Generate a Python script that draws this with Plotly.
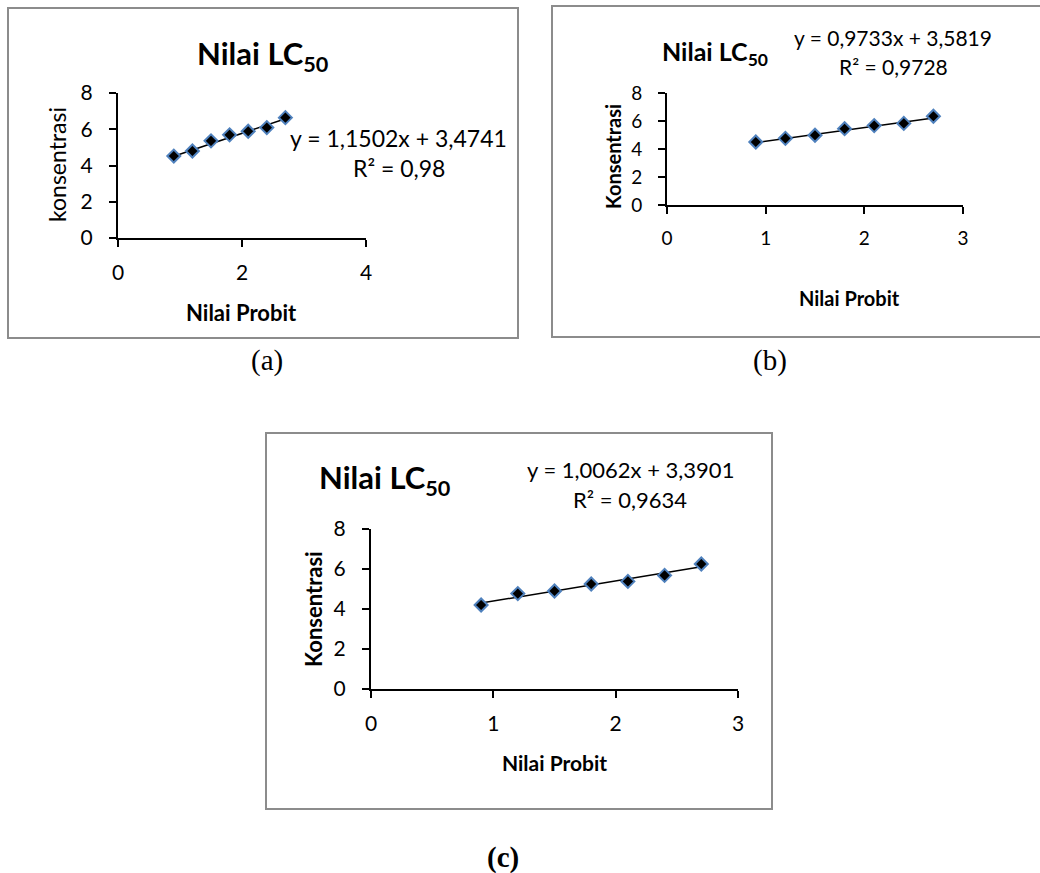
import plotly.graph_objects as go

W, H = 1040, 873

# ---- data ----
probit = [0.9, 1.2, 1.5, 1.8, 2.1, 2.4, 2.7]
konsentrasi_a = [4.52, 4.80, 5.36, 5.69, 5.89, 6.09, 6.64]
konsentrasi_b = [4.50, 4.76, 4.98, 5.45, 5.67, 5.83, 6.34]
konsentrasi_c = [4.20, 4.77, 4.90, 5.25, 5.38, 5.68, 6.25]

slope = {"a": 1.1502, "b": 0.9733, "c": 1.0062}
intercept = {"a": 3.4741, "b": 3.5819, "c": 3.3901}
eq_text = {"a": "y = 1,1502x + 3,4741", "b": "y = 0,9733x + 3,5819", "c": "y = 1,0062x + 3,3901"}
r2_text = {"a": "R² = 0,98", "b": "R² = 0,9728", "c": "R² = 0,9634"}
y_titles = {"a": "konsentrasi", "b": "Konsentrasi", "c": "Konsentrasi"}
x_title = "Nilai Probit"
chart_title = "Nilai LC<sub>50</sub>"
panel_labels = {"a": "(a)", "b": "(b)", "c": "<b>(c)</b>"}
x_max = {"a": 4, "b": 3, "c": 3}
x_dtick = {"a": 2, "b": 1, "c": 1}

FONT = "Lato"
BLUE = "#4F81BD"


def px(x):
    return x / W


def py(y):
    return 1 - y / H


# axis pixel boxes: (x of 0, x of max, y of 0, y of 8)
boxes = {
    "a": (118, 366, 238, 93),
    "b": (667, 963, 205, 93),
    "c": (371, 738, 689, 529),
}
tick_size = {"a": 21, "b": 19, "c": 21}

fig = go.Figure()
series = {"a": konsentrasi_a, "b": konsentrasi_b, "c": konsentrasi_c}
axis_ids = {"a": ("x", "y", ""), "b": ("x2", "y2", "2"), "c": ("x3", "y3", "3")}

for k in ["a", "b", "c"]:
    xa, ya, suf = axis_ids[k]
    xs = [min(probit), max(probit)]
    ys = [slope[k] * v + intercept[k] for v in xs]
    fig.add_trace(go.Scatter(x=xs, y=ys, mode="lines", line=dict(color="black", width=1.5),
                             xaxis=xa, yaxis=ya, showlegend=False, hoverinfo="skip"))
    fig.add_trace(go.Scatter(x=probit, y=series[k], mode="markers",
                             marker=dict(symbol="diamond", size=10, color="black",
                                         line=dict(color=BLUE, width=2)),
                             xaxis=xa, yaxis=ya, showlegend=False))
    x0, x1, y0, y1 = boxes[k]
    common = dict(showline=True, linecolor="black", linewidth=2, showgrid=False, zeroline=False,
                  ticks="outside", ticklen=7, tickwidth=1.5, tickcolor="black",
                  tickfont=dict(family=FONT, size=tick_size[k], color="black"),
                  automargin=False)
    fig.layout["xaxis" + suf] = dict(domain=[px(x0), px(x1)], range=[0, x_max[k]], dtick=x_dtick[k],
                                     anchor=ya, ticklabelstandoff=8, **common)
    fig.layout["yaxis" + suf] = dict(domain=[py(y0), py(y1)], range=[0, 8], dtick=2,
                                     anchor=xa, ticklabelstandoff=12, **common)

annotations = []


def ann(text, x, y, size, bold=False, family=FONT, angle=0):
    t = f"<b>{text}</b>" if bold else text
    annotations.append(dict(text=t, x=px(x), y=py(y), xref="paper", yref="paper",
                            showarrow=False, xanchor="center", yanchor="middle",
                            textangle=angle, font=dict(family=family, size=size, color="black")))


# titles
ann(chart_title, 263, 55, 31, bold=True)
ann(chart_title, 715, 53, 25, bold=True)
ann(chart_title, 385, 479, 31, bold=True)
# equations
ann(eq_text["a"], 398, 138, 23)
ann(r2_text["a"], 399, 168, 23)
ann(eq_text["b"], 893, 38, 21)
ann(r2_text["b"], 893, 67, 21)
ann(eq_text["c"], 630, 469, 22)
ann(r2_text["c"], 630, 500, 22)
# axis titles
ann(x_title, 241, 312, 22, bold=True)
ann(x_title, 849, 298, 20, bold=True)
ann(x_title, 554, 762, 21, bold=True)
ann(y_titles["a"], 57, 165, 23, angle=-90)
ann(y_titles["b"], 613, 157, 20, bold=True, angle=-90)
ann(y_titles["c"], 313, 609, 22, bold=True, angle=-90)
# panel labels
ann(panel_labels["a"], 267, 360, 29, family="Liberation Serif")
ann(panel_labels["b"], 770, 360, 29, family="Liberation Serif")
ann(panel_labels["c"], 503, 857, 29, family="Liberation Serif")

BORDER = "#8C8C8C"
shapes = [
    dict(type="rect", xref="paper", yref="paper", x0=px(8), x1=px(518), y0=py(338), y1=py(8),
         line=dict(color=BORDER, width=2)),
    dict(type="path", xref="paper", yref="paper",
         path=f"M {px(1042)} {py(6)} L {px(552)} {py(6)} L {px(552)} {py(337)} L {px(1042)} {py(337)}",
         line=dict(color=BORDER, width=2)),
    dict(type="rect", xref="paper", yref="paper", x0=px(266), x1=px(772), y0=py(809), y1=py(433),
         line=dict(color=BORDER, width=2)),
]

fig.update_layout(width=W, height=H, margin=dict(l=0, r=0, t=0, b=0, pad=0),
                  paper_bgcolor="white", plot_bgcolor="rgba(0,0,0,0)",
                  annotations=annotations, shapes=shapes, showlegend=False)

fig.write_html("out.html", config={"displayModeBar": False},
               post_script="document.body.style.margin='0';document.body.style.overflow='hidden';")
